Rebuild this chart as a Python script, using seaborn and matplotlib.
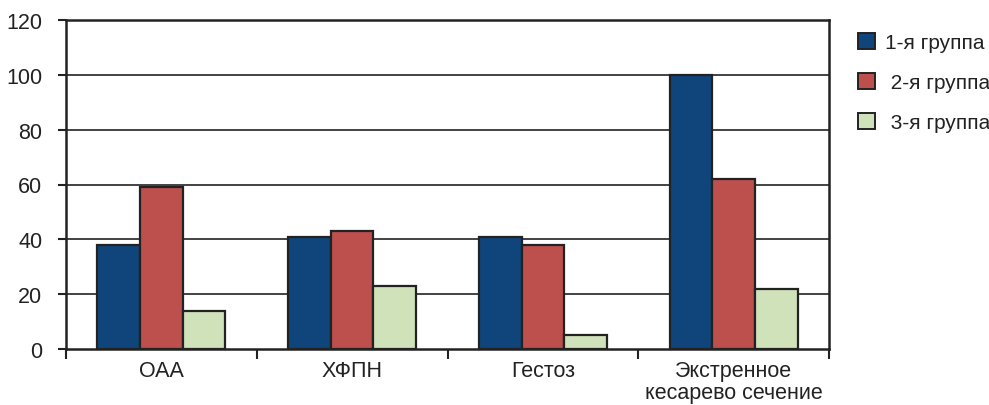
import matplotlib
matplotlib.use("Agg")
import matplotlib.pyplot as plt
from matplotlib.patches import Patch
from matplotlib.ticker import FixedLocator, NullFormatter
import seaborn as sns
import pandas as pd

categories = ["ОАА", "ХФПН", "Гестоз", "Экстренное\nкесарево сечение"]
groups = ["1-я группа", "2-я группа", "3-я группа"]
group1 = [38, 41, 41, 100]
group2 = [59, 43, 38, 62]
group3 = [14, 23, 5, 22]
y_ticks = [0, 20, 40, 60, 80, 100, 120]

colors = ["#0F457A", "#BD504D", "#CFE2B9"]
edge = "#222222"
fs = 15.5

df = pd.DataFrame({
    "category": categories * 3,
    "group": [groups[0]] * 4 + [groups[1]] * 4 + [groups[2]] * 4,
    "value": group1 + group2 + group3,
})

sns.set_theme(style="white")
plt.rcParams["font.family"] = ["Liberation Sans", "DejaVu Sans"]

fig = plt.figure(figsize=(9.89, 4.06), dpi=100)
ax = fig.add_axes([66 / 989, 1 - 350 / 406, (829 - 66) / 989, (350 - 21) / 406])

sns.barplot(data=df, x="category", y="value", hue="group", order=categories,
            hue_order=groups, palette=colors, width=0.67, saturation=1,
            edgecolor=edge, linewidth=1.6, ax=ax, legend=False, zorder=3)

ax.set_ylim(0, 120)
ax.set_xlim(-0.5, len(categories) - 0.5)
ax.set_yticks(y_ticks)
ax.set_xlabel("")
ax.set_ylabel("")

for y in y_ticks[1:-1]:
    ax.axhline(y, color="#222222", linewidth=1.2, zorder=1)

for s in ax.spines.values():
    s.set_visible(True)
    s.set_color("#222222")
    s.set_linewidth(1.8)

ax.tick_params(axis="y", which="major", direction="out", length=6, width=1.5,
               color="#222222", labelsize=fs, labelcolor="#222222", pad=11, left=True)
ax.tick_params(axis="x", which="major", length=0, labelsize=fs,
               labelcolor="#222222", pad=8)
ax.xaxis.set_minor_locator(FixedLocator([i - 0.5 for i in range(len(categories) + 1)]))
ax.xaxis.set_minor_formatter(NullFormatter())
ax.tick_params(axis="x", which="minor", direction="out", length=7, width=1.5,
               color="#222222", bottom=True)
for lbl in ax.get_xticklabels():
    lbl.set_linespacing(1.08)

handles = [Patch(facecolor=c, edgecolor=edge, linewidth=1.4) for c in colors]
labels = [groups[0], " " + groups[1], " " + groups[2]]
fig.legend(handles, labels, loc="upper left", bbox_to_anchor=(850 / 989, 1 - 26 / 406),
           frameon=False, fontsize=15, handlelength=0.78, handleheight=0.78,
           handletextpad=0.5, labelspacing=1.0, labelcolor="#222222",
           borderaxespad=0, borderpad=0.4)

fig.savefig("out.png", dpi=100)
